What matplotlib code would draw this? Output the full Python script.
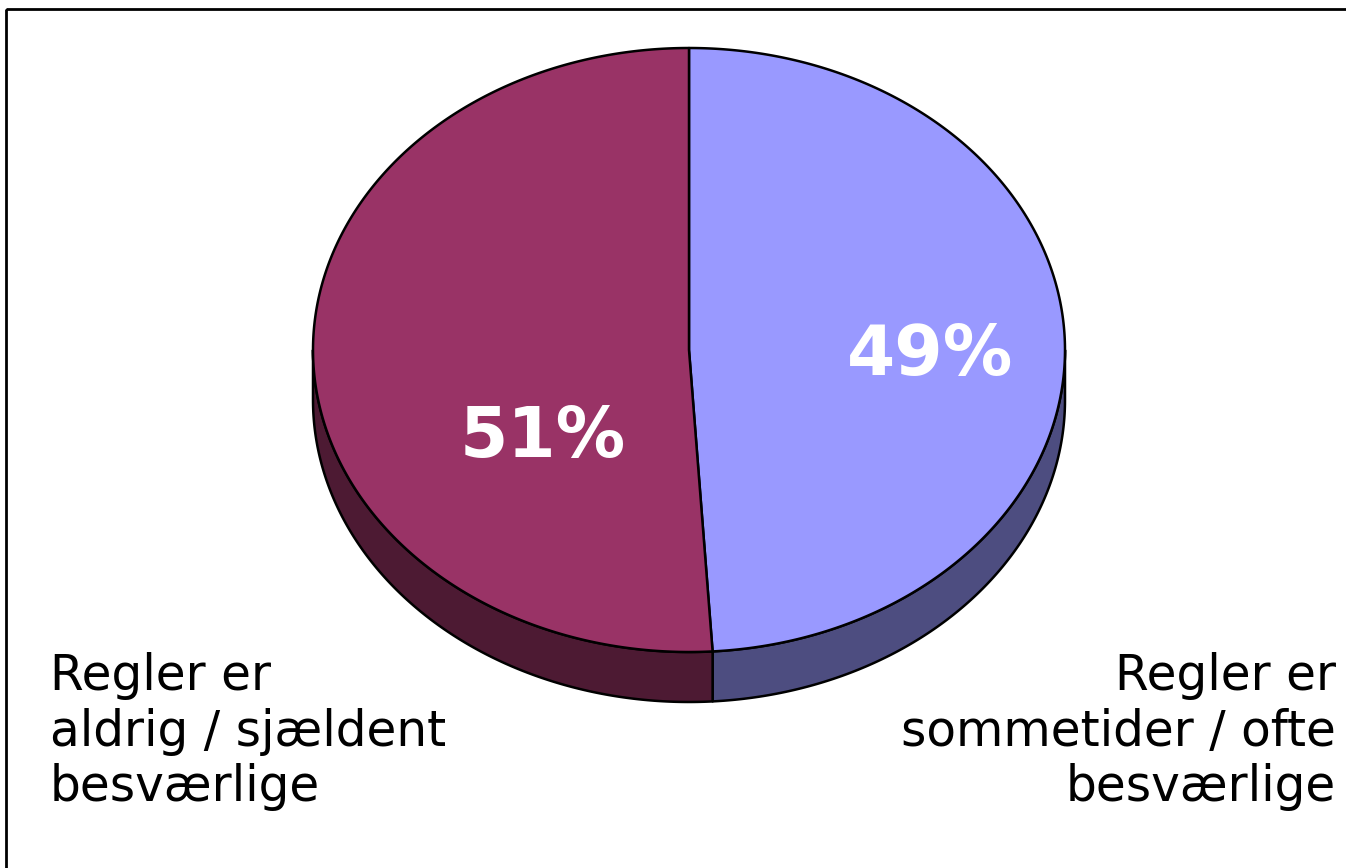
import numpy as np
import matplotlib.pyplot as plt
from matplotlib.patches import Polygon, Rectangle

# pie data (clockwise from 12 o'clock)
labels = ["Regler er\nsommetider / ofte\nbesværlige", "Regler er\naldrig / sjældent\nbesværlige"]
values = [49, 51]
pct_labels = ["49%", "51%"]
top_colors = ["#9999FF", "#993366"]
side_colors = ["#4D4D80", "#4D1A33"]

W, H = 1346, 868
fig = plt.figure(figsize=(W / 100, H / 100), dpi=100)
ax = fig.add_axes([0, 0, 1, 1])
ax.set_xlim(0, W)
ax.set_ylim(H, 0)
ax.axis("off")

# frame (only left and top edge visible in the reference)
ax.add_patch(Rectangle((6, 9), W + 20, H + 20, fill=False, ec="black", lw=2))

cx, cy = 689, 350      # centre of top face
rx, ry = 376, 302      # radii of tilted ellipse
depth = 50


def pt(t):
    # t in degrees, clockwise from top
    r = np.radians(t)
    return cx + rx * np.sin(r), cy - ry * np.cos(r)


fracs = np.array(values) / sum(values)
bounds = np.concatenate([[0], np.cumsum(fracs) * 360])

# side walls (front half only: 90..270 deg)
for i in range(len(values)):
    a0, a1 = max(bounds[i], 90), min(bounds[i + 1], 270)
    if a1 <= a0:
        continue
    ts = np.linspace(a0, a1, 200)
    xs, ys = pt(ts)
    top = np.column_stack([xs, ys])
    bot = np.column_stack([xs, ys + depth])[::-1]
    ax.add_patch(Polygon(np.vstack([top, bot]), closed=True, fc=side_colors[i],
                         ec="black", lw=1.8, joinstyle="round"))

# top faces
for i in range(len(values)):
    ts = np.linspace(bounds[i], bounds[i + 1], 400)
    xs, ys = pt(ts)
    verts = np.vstack([[cx, cy], np.column_stack([xs, ys])])
    ax.add_patch(Polygon(verts, closed=True, fc=top_colors[i], ec="black",
                         lw=1.8, joinstyle="round"))

# percentage labels
pct_pos = [(930, 356), (543, 438)]
for (x, y), s in zip(pct_pos, pct_labels):
    ax.text(x, y, s, color="white", fontsize=50, fontweight="bold",
            ha="center", va="center", family="DejaVu Sans")

# category labels
ax.text(1336, 652, labels[0], ha="right", va="top", fontsize=35,
        linespacing=1.2, family="DejaVu Sans")
ax.text(50, 652, labels[1], ha="left", va="top", fontsize=35,
        linespacing=1.2, family="DejaVu Sans")

fig.savefig("out.png", dpi=100)
